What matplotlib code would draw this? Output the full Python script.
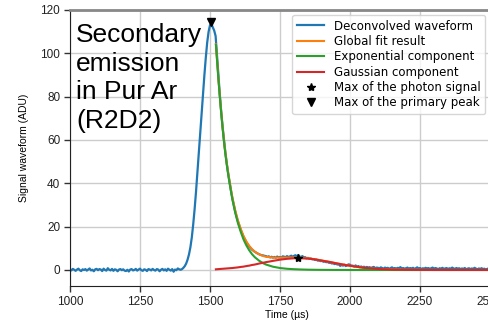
import numpy as np
import matplotlib
matplotlib.use("Agg")
import matplotlib.pyplot as plt

# deconvolved waveform, sampled every 5 us from 1000 to 2550 us
wave_t = np.arange(1000, 2551, 5)
wave_adu = [
    0.3, -0.2, 0.5, 0.1, -0.4, 0.2, 0.6, -0.1, -0.5, 0.3, 0.0, 0.4, -0.3, 0.2, 0.7, -0.2, 0.1, -0.6, 0.3, 0.5,
    -0.1, 0.4, 0.2, -0.5, 0.6, 0.0, -0.3, 0.8, 0.1, -0.2, 0.5, -0.4, 0.3, 0.1, -0.6, 0.2, 0.4, -0.1, 0.3, -0.3,
    -0.5, 0.1, -0.7, 0.2, 0.4, -0.2, 0.0, 0.5, -0.3, 0.2, 0.6, -0.1, -0.4, 0.3, 0.1, -0.5, 0.4, 0.2, -0.2, 0.5,
    0.0, -0.3, 0.4, 0.2, -0.6, 0.1, 0.5, -0.2, 0.3, -0.4, 0.6, 0.1, -0.3, 0.4, -0.8, 0.2, -0.1, 0.7, 0.3, 0.1,
    0.4, 1.0, 1.8, 3.0, 4.8, 7.2, 10.5, 15, 21, 28, 36, 45, 54, 63, 72, 81, 90, 98, 105, 110,
    113, 113.5, 112, 110.5, 108, 99, 90, 81, 73, 66, 60, 54, 49, 44.5, 40.5, 36.5, 33, 30, 27, 24.5,
    22.3, 20.3, 18.4, 16.8, 15.3, 14.0, 12.8, 11.8, 10.9, 10.1, 9.4, 8.9, 8.4, 8.0, 7.6, 7.3, 7.0, 6.8, 6.7, 6.5,
    6.4, 6.0, 6.3, 5.8, 6.1, 5.7, 6.0, 5.6, 6.2, 5.8, 6.0, 5.7, 6.3, 6.1, 5.9, 6.4, 6.0, 6.2, 6.6, 6.1,
    6.5, 6.8, 6.3, 6.9, 6.2, 6.0, 6.4, 5.8, 5.9, 5.4, 5.6, 5.2, 5.3, 4.9, 5.0, 4.6, 4.7, 4.3, 4.4, 4.1,
    4.2, 3.8, 3.9, 3.6, 3.7, 3.3, 3.4, 3.0, 3.1, 2.7, 2.9, 2.5, 2.6, 1.9, 2.3, 2.0, 2.4, 1.8, 2.2, 2.6,
    2.4, 1.9, 2.0, 1.6, 2.1, 1.5, 1.8, 1.3, 1.6, 1.2, 1.5, 1.0, 1.4, 1.1, 1.3, 0.9, 1.2, 1.4, 0.8, 1.1,
    1.0, 0.7, 1.2, 0.9, 0.6, 1.1, 0.8, 1.0, 0.5, 0.9, 1.2, 0.7, 0.9, 0.6, 1.0, 0.8, 1.3, 0.7, 0.9, 0.6,
    0.8, 1.1, 0.6, 0.9, 0.7, 1.0, 0.5, 0.8, 1.2, 0.7, 0.9, 0.4, 0.8, 0.6, 1.0, 0.7, 0.9, 0.5, 0.8, 1.1,
    0.6, 0.9, 0.7, 0.3, 0.8, 0.6, 1.0, 0.5, 0.7, 0.9, 0.4, 0.8, 0.6, 1.1, 0.7, 0.5, 0.9, 0.6, 0.8, 0.4,
    0.7, 0.5, 0.9, 0.3, 0.6, 0.8, 0.4, 0.7, 0.5, 1.0, 0.6, 0.3, 0.7, 0.5, 0.8, 0.4, 0.6, 0.2, 0.5, 0.7,
    0.4, 0.6, 0.3, 0.5, 0.2, 0.6, 0.4, 0.3, 0.5, 0.2, 0.4,
]

# fit curves
fit_t = [1521, 1525, 1530, 1535, 1540, 1545, 1550, 1555, 1560, 1565, 1570, 1580, 1590,
         1600, 1610, 1620, 1630, 1640, 1650, 1660, 1675, 1690, 1700, 1725, 1750, 1775,
         1800, 1825, 1850, 1875, 1900, 1925, 1950, 1975, 2000, 2025, 2050, 2075, 2100,
         2150, 2200, 2300, 2400, 2550]
exp_comp = [104, 97, 88, 80, 72.5, 65.5, 59, 53.5, 48.5, 44, 40, 32.5, 26.5,
            21.5, 17.5, 14, 11.3, 9.1, 7.3, 5.9, 4.3, 3.1, 2.5, 1.5, 0.9, 0.55,
            0.35, 0.22, 0.13, 0.08, 0.05, 0.03, 0.02, 0.01, 0, 0, 0, 0, 0,
            0, 0, 0, 0, 0]
gauss_comp = [0.3, 0.35, 0.4, 0.45, 0.5, 0.55, 0.6, 0.65, 0.7, 0.75, 0.8, 0.9, 1.05,
              1.2, 1.4, 1.55, 1.8, 2.0, 2.3, 2.5, 2.95, 3.35, 3.6, 4.2, 4.75, 5.15,
              5.4, 5.4, 5.25, 4.9, 4.3, 3.75, 3.1, 2.5, 1.95, 1.45, 1.0, 0.75, 0.45,
              0.2, 0.1, 0.0, 0.0, 0.0]
global_fit = [104.3, 97.35, 88.4, 80.45, 73.0, 66.05, 59.6, 54.15, 49.2, 44.75, 40.8, 33.4, 27.55,
              22.7, 18.9, 15.55, 13.1, 11.1, 9.6, 8.4, 7.25, 6.45, 6.1, 5.7, 5.65, 5.7,
              5.75, 5.62, 5.38, 4.98, 4.35, 3.78, 3.12, 2.51, 1.95, 1.45, 1.0, 0.75, 0.45,
              0.2, 0.1, 0.0, 0.0, 0.0]

photon_max = (1813, 5.3)
primary_max = (1502, 114.5)

fig = plt.figure(figsize=(4.89, 3.2), dpi=100)
ax = fig.add_axes([70 / 489, 34 / 320, 434 / 489, 276 / 320])

ax.plot(wave_t, wave_adu, color="#1f77b4", lw=1.6, label="Deconvolved waveform")
ax.plot(fit_t, global_fit, color="#ff7f0e", lw=1.5, label="Global fit result")
ax.plot(fit_t, exp_comp, color="#2ca02c", lw=1.5, label="Exponential component")
ax.plot(fit_t, gauss_comp, color="#d62728", lw=1.5, label="Gaussian component")
ax.plot(*photon_max, marker="*", color="black", ms=6, ls="none", label="Max of the photon signal")
ax.plot(*primary_max, marker="v", color="black", ms=6, ls="none", label="Max of the primary peak")

ax.set_xlim(1000, 2550)
ax.set_ylim(-7.4, 120)
ax.set_xticks([1000, 1250, 1500, 1750, 2000, 2250, 2500])
ax.set_yticks([0, 20, 40, 60, 80, 100, 120])
ax.grid(True, color="#cccccc", lw=1)
ax.set_axisbelow(True)

for lab in ax.get_xticklabels() + ax.get_yticklabels():
    lab.set_fontfamily("Liberation Sans")
    lab.set_fontsize(8.5)
    lab.set_color("#222222")
ax.tick_params(direction="out", length=4, width=1, color="#333333", pad=3)
ax.set_xlabel("Time (\u00b5s)", fontdict={"family": "Liberation Sans", "size": 7.5}, labelpad=2)
ax.set_ylabel("Signal waveform (ADU)", fontdict={"family": "Liberation Sans", "size": 7.5}, labelpad=8)

ax.spines["left"].set_color("#222222")
ax.spines["bottom"].set_color("#222222")
ax.spines["top"].set_color("#888888")
ax.spines["top"].set_linewidth(2)
ax.spines["right"].set_color("#888888")

fig.legend(loc="upper right", bbox_to_anchor=(1.0 + 2 / 489, 1 - 9 / 320),
           prop={"family": "DejaVu Sans", "size": 8.5}, handlelength=2.3,
           labelspacing=0.2, borderpad=0.4)

fig.text(76 / 489, 1 - 23 / 320, "Secondary\nemission\nin Pur Ar\n(R2D2)",
         family="Liberation Sans", fontsize=19, va="top", ha="left", linespacing=1.24)

fig.savefig("out.png", dpi=100)
